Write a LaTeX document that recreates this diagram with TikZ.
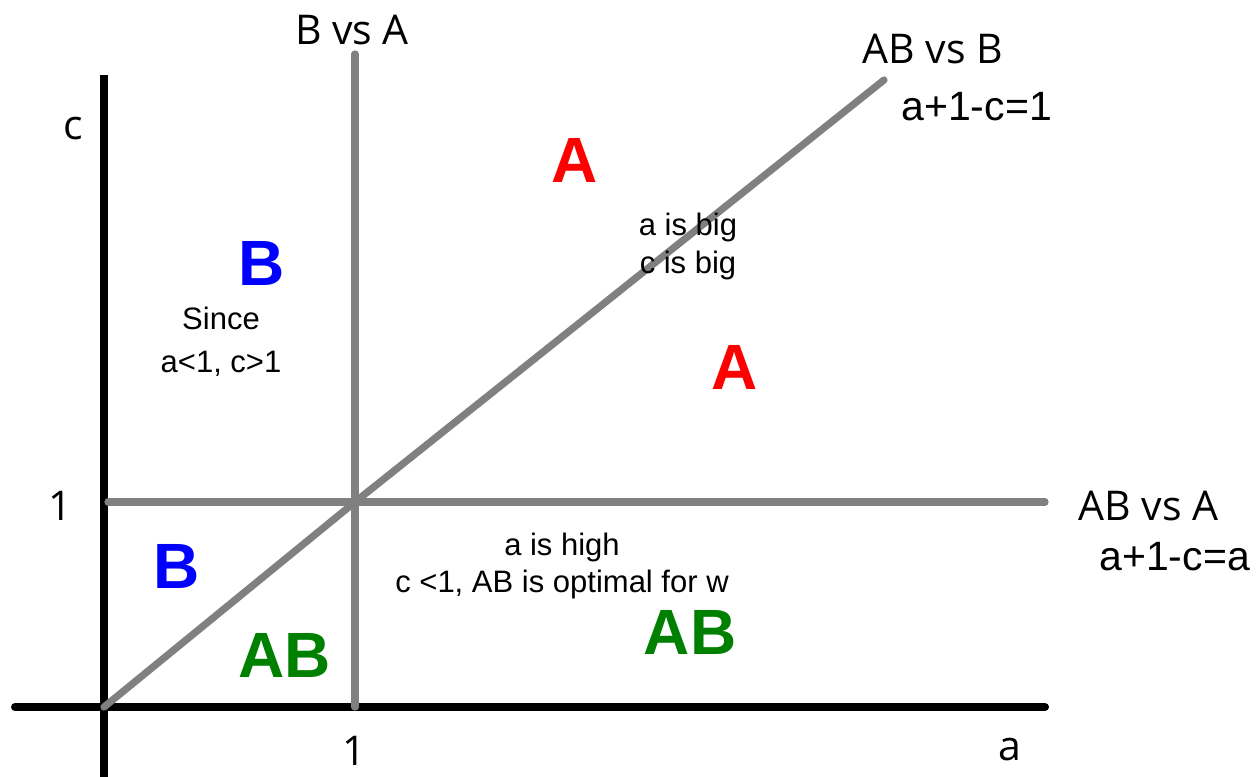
\documentclass[tikz,border=0pt]{standalone}
\usepackage{fontspec}
\setmainfont{Liberation Sans}
\newfontfamily\axisfont{Open Sans}
\usepackage{tikz}
\usetikzlibrary{positioning, calc}
\definecolor{lineGray}{HTML}{808080}
\definecolor{regRed}{HTML}{FF0000}
\definecolor{regBlue}{HTML}{0000FF}
\definecolor{regGreen}{HTML}{008000}
\tikzset{
	axisline/.style={line width=4pt, black, line cap=round}
}
\tikzset{
	boundary/.style={line width=3.6pt, lineGray, line cap=round}
}
\tikzset{
	axistext/.style={font=\axisfont\fontsize{20.5}{24}\selectfont, inner sep=0pt},
	eqtext/.style={font=\fontsize{20.5}{24}\selectfont, inner sep=0pt},
	regiontext/.style={font=\bfseries\fontsize{32}{38}\selectfont, inner sep=0pt},
	notetext/.style={font=\fontsize{15.5}{19}\selectfont, align=center, inner sep=0pt}
}
\begin{document}
\begin{tikzpicture}[x=0.5pt, y=-0.5pt]
      \useasboundingbox (0,0) rectangle (1256,776);
      % axes
      \coordinate (O) at (104,707);
      \coordinate (xend) at (1045,707);
      \coordinate (xstart) at (15,707);
      \coordinate (ytop) at (104,75);
      \coordinate (ybot) at (104,790);
      \draw[axisline] (xstart) -- (xend);
      \draw[axisline, line cap=butt] (ybot) -- (ytop);
      % boundaries between the regions
      \coordinate (one) at (355,502);
      \coordinate (BAtop) at (355,54);
      \coordinate (BAbot) at (355,707);
      \coordinate (ABAend) at (1045,502);
      \coordinate (ABAstart) at (108,502);
      \coordinate (ABBend) at (884,80);
      \draw[boundary] (ABAstart) -- (ABAend);
      \draw[boundary] (BAbot) -- (BAtop);
      \draw[boundary] (O) -- (one) -- (ABBend);
      % axis labels
      \node[axistext] (clabel) at (73,129) {c};
      \node[axistext, anchor=base] (onec) at (60,520) {1};
      \node[axistext, anchor=base] (onea) at (354,765) {1};
      \node[axistext, anchor=base] (alabel) at (1010,760) {a};
      % boundary labels
      \node[axistext, anchor=base] (BvsA) at (352,44) {B vs A};
      \node[axistext, anchor=base] (ABvsB) at (933,63) {AB vs B};
      \node[eqtext, anchor=base west] (eqB) at (901,120) {a+1-c=1};
      \node[axistext, anchor=base west] (ABvsA) at (1078,520) {AB vs A};
      \node[eqtext, anchor=base west] (eqA) at (1099,570) {a+1-c=a};
      % region letters
      \node[regiontext, regRed, anchor=base] (Atop) at (575,182) {A};
      \node[regiontext, regRed, anchor=base] (Amid) at (735,389) {A};
      \node[regiontext, regBlue, anchor=base] (Btop) at (262,285) {B};
      \node[regiontext, regBlue, anchor=base] (Blow) at (177,588) {B};
      \node[regiontext, regGreen, anchor=base] (ABleft) at (285,677) {AB};
      \node[regiontext, regGreen, anchor=base] (ABright) at (690,654) {AB};
      % notes
      \node[notetext] (bignote) at (688,246) {a is big\\c is big};
      \node[notetext, font=\fontsize{15.5}{21.5}\selectfont] (sincenote) at (221,342) {Since\\a<1, c>1};
      \node[notetext, font=\fontsize{15.5}{18.5}\selectfont] (highnote) at (562,566) {a is high\\c <1, AB is optimal for w};
    \end{tikzpicture}
\end{document}
